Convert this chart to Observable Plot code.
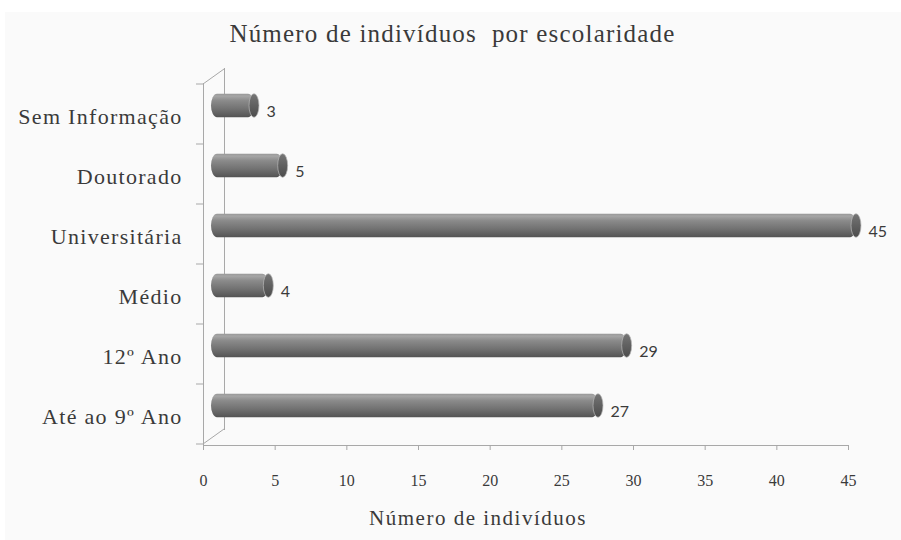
<!DOCTYPE html>
<html>
<head>
<meta charset="utf-8">
<script src="https://cdn.jsdelivr.net/npm/d3@7"></script>
<script src="https://cdn.jsdelivr.net/npm/@observablehq/plot@0.6"></script>
<style>
  html, body { margin: 0; padding: 0; background: #fff; }
  #page { position: relative; width: 901px; height: 540px; overflow: hidden; background: #fff; }
  #panel { position: absolute; left: 5px; top: 12px; right: 0; bottom: 0; background: #fafafa; }
  #title {
    position: absolute; left: 0; top: 19px; width: 905px; text-align: center;
    font-family: "Liberation Serif", "DejaVu Serif", serif; font-size: 25px; letter-spacing: 1.2px;
    color: #3a3a3a; white-space: pre; line-height: 30px;
  }
  #chart { position: absolute; left: 0; top: 62px; }
  #xlabel {
    position: absolute; left: 0; top: 503px; width: 956px; text-align: center;
    font-family: "Liberation Serif", "DejaVu Serif", serif; font-size: 21px; letter-spacing: 1.5px;
    color: #3a3a3a; line-height: 30px;
  }
</style>
</head>
<body>
<div id="page">
  <div id="panel"></div>
  <div id="title">Número de indivíduos  por escolaridade</div>
  <div id="chart"></div>
  <div id="xlabel">Número de indivíduos</div>
</div>
<script>
// Education level categories, top to bottom
const categories = ["Sem Informação", "Doutorado", "Universitária", "Médio", "12º Ano", "Até ao 9º Ano"];
// Number of individuals per category
const counts = [3, 5, 45, 4, 29, 27];
// Value axis ticks
const xTicks = [0, 5, 10, 15, 20, 25, 30, 35, 40, 45];

const data = categories.map((category, i) => ({ category, count: counts[i] }));

const serif = "'Liberation Serif', 'DejaVu Serif', serif";
const axisColor = "#a8a8a8";
const textColor = "#3a3a3a";
const barInset = 18.2;   // leaves a ~24px thick cylinder in each band
const depthX = 8, depthY = -8.5; // bars sit half-way into the 3D depth

const chart = Plot.plot({
  width: 901,
  height: 433,
  marginLeft: 203,
  marginRight: 53,
  marginTop: 21,
  marginBottom: 50,
  style: { background: "transparent", fontFamily: serif, color: textColor },
  x: { domain: [0, 45] },
  y: { domain: categories, padding: 0 },
  marks: [
    // back wall edge and front edge of the category axis
    Plot.ruleX([0], { stroke: axisColor, dx: 21, dy: -15 }),
    Plot.ruleX([0], { stroke: axisColor }),
    Plot.frame({ anchor: "bottom", stroke: axisColor }),
    Plot.axisX({ ticks: xTicks, tickSize: 5, tickPadding: 24, label: null, fontSize: 16, fontFamily: serif, stroke: axisColor, fill: textColor }),
    Plot.axisY({ tickSize: 0, tickPadding: 21, label: null, fontSize: 22, fontFamily: serif, dy: 2, fill: textColor }),
    // cylinder bodies
    Plot.barX(data, {
      x: "count", y: "category", insetTop: barInset, insetBottom: barInset,
      dx: depthX, dy: depthY, rx: 6, ry: 12, fill: "url(#cyl-body)"
    }),
    // cylinder end caps
    Plot.barX(data, {
      x1: "count", x2: "count", y: "category", insetTop: barInset, insetBottom: barInset,
      insetLeft: -5, insetRight: -5, dx: depthX, dy: depthY, rx: 5, ry: 12,
      fill: "url(#cyl-cap)", stroke: "#b8b8b8", strokeWidth: 0.7
    }),
    // value labels
    Plot.text(data, {
      x: "count", y: "category", text: d => String(d.count), dx: 20, dy: -2.5,
      textAnchor: "start", fontSize: 16, fontFamily: "Lato, 'Open Sans', sans-serif", fill: textColor
    })
  ]
});

// gradients giving the bars their cylindrical shading
const svg = d3.select(chart);
const defs = svg.insert("defs", ":first-child");
const body = defs.append("linearGradient").attr("id", "cyl-body").attr("x1", 0).attr("y1", 0).attr("x2", 0).attr("y2", 1);
[[0, "#979797"], [0.1, "#a6a6a6"], [0.3, "#8a8a8a"], [0.65, "#717171"], [0.9, "#5c5c5c"], [1, "#525252"]]
  .forEach(([o, c]) => body.append("stop").attr("offset", o).attr("stop-color", c));
const cap = defs.append("linearGradient").attr("id", "cyl-cap").attr("x1", 0).attr("y1", 0).attr("x2", 0).attr("y2", 1);
[[0, "#767676"], [0.5, "#606060"], [1, "#4c4c4c"]]
  .forEach(([o, c]) => cap.append("stop").attr("offset", o).attr("stop-color", c));

svg.selectAll('[aria-label="y-axis tick label"] text').style("letter-spacing", "1.3px");

// 3D frame: depth diagonals and category boundary ticks
const xs = chart.scale("x"), ys = chart.scale("y");
const x0 = xs.apply(0);
const yTop = ys.apply(categories[0]);
const step = ys.bandwidth;
const yBot = yTop + step * categories.length;
const frame = svg.append("g").attr("stroke", axisColor).attr("fill", "none");
frame.append("path").attr("d", `M${x0},${yTop}L${x0 + 21},${yTop - 15}`);
frame.append("path").attr("d", `M${x0},${yBot}L${x0 + 21},${yBot - 15}`);
for (let i = 0; i <= categories.length; i++) {
  const yy = yTop + i * step;
  frame.append("path").attr("d", `M${x0 - 7},${yy}L${x0},${yy}`);
}
// keep frame lines beneath bars
svg.node().insertBefore(frame.node(), svg.node().querySelector('[aria-label="bar"]'));

document.getElementById("chart").appendChild(chart);
</script>
</body>
</html>
